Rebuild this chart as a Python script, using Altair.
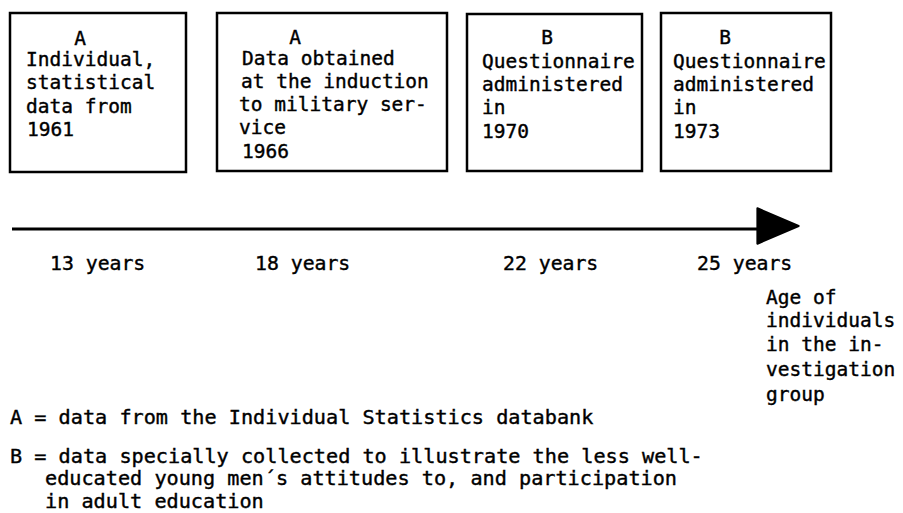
import altair as alt
import pandas as pd

# ---- diagram content (page pixel coordinates) ----
box_x1 = [10, 217, 467, 661]
box_x2 = [186, 447, 642, 831]
box_y1 = [13, 13, 14, 13]
box_y2 = [172, 171, 171, 171]

# box header letters (centred)
head_text = ["A", "A", "B", "B"]
head_x = [80, 295, 547, 725]
head_y = [39, 38, 38, 38]

# left-aligned text lines
body_text = [
    "Individual,", "statistical", "data from", "1961",
    "Data obtained", "at the induction", "to military ser-", "vice", "1966",
    "Questionnaire", "administered", "in", "1970",
    "Questionnaire", "administered", "in", "1973",
    "13 years", "18 years", "22 years", "25 years",
    "Age of", "individuals", "in the in-", "vestigation", "group",
    "A = data from the Individual Statistics databank",
    "B = data specially collected to illustrate the less well-",
    "educated young men´s attitudes to, and participation",
    "in adult education",
]
body_x = [
    26, 26, 26, 27,
    242, 241, 239, 239, 242,
    482, 482, 482, 482,
    673, 673, 673, 673,
    50, 255, 503, 697,
    766, 766, 766, 766, 766,
    10, 10, 45, 45,
]
body_y = [
    60, 83, 107, 130,
    59, 82, 105, 128, 152,
    62, 85, 108, 132,
    62, 85, 108, 132,
    264, 264, 264, 264,
    298, 321, 345, 370, 395,
    418, 457, 479, 502,
]
body_size = [19.5] * 17 + [19.8] * 4 + [19.5] * 5 + [20.2] * 4

# timeline arrow
arrow_x1 = [12]
arrow_x2 = [772]
arrow_y = [229]
head_px = [778]
head_py = [226]

boxes = pd.DataFrame({"x1": box_x1, "x2": box_x2, "y1": box_y1, "y2": box_y2})
heads = pd.DataFrame({"x": head_x, "y": head_y, "t": head_text})
body = pd.DataFrame({"x": body_x, "y": body_y, "t": body_text, "fs": body_size})
line = pd.DataFrame({"x1": arrow_x1, "x2": arrow_x2, "y": arrow_y})
tip = pd.DataFrame({"x": head_px, "y": head_py})

W, H = 887, 505
xs = alt.Scale(domain=[8, 8 + W], nice=False, zero=False)
ys = alt.Scale(domain=[8, 8 + H], nice=False, zero=False, reverse=True)

FONT = "DejaVu Sans Mono"
FS = 19.5

rects = alt.Chart(boxes).mark_rect(fill="white", stroke="black", strokeWidth=2.5).encode(
    x=alt.X("x1:Q", scale=xs, axis=None), x2="x2:Q",
    y=alt.Y("y1:Q", scale=ys, axis=None), y2="y2:Q",
)

rule = alt.Chart(line).mark_rule(color="black", strokeWidth=3).encode(
    x=alt.X("x1:Q", scale=xs, axis=None), x2="x2:Q",
    y=alt.Y("y:Q", scale=ys, axis=None),
)

arrowhead = alt.Chart(tip).mark_point(
    shape="M -1 -0.86 L 1 0 L -1 0.86 Z", filled=True, fill="black",
    stroke="black", strokeWidth=2, strokeJoin="round", opacity=1, size=1700,
).encode(
    x=alt.X("x:Q", scale=xs, axis=None),
    y=alt.Y("y:Q", scale=ys, axis=None),
)

head_layer = alt.Chart(heads).mark_text(
    font=FONT, fontSize=FS, align="center", baseline="middle", color="black",
    stroke="black", strokeWidth=0.4,
).encode(
    x=alt.X("x:Q", scale=xs, axis=None),
    y=alt.Y("y:Q", scale=ys, axis=None),
    text="t:N",
)

body_layer = alt.Chart(body).mark_text(
    font=FONT, align="left", baseline="middle", color="black",
    stroke="black", strokeWidth=0.4,
).encode(
    x=alt.X("x:Q", scale=xs, axis=None),
    y=alt.Y("y:Q", scale=ys, axis=None),
    size=alt.Size("fs:Q", scale=None, legend=None),
    text="t:N",
)

chart = alt.layer(rects, rule, arrowhead, head_layer, body_layer).properties(
    width=W, height=H, padding=0, autosize=alt.AutoSizeParams(type="none"),
    background="white",
).configure_view(stroke=None)

chart.save("out.html", embed_options={"renderer": "svg", "actions": False})
